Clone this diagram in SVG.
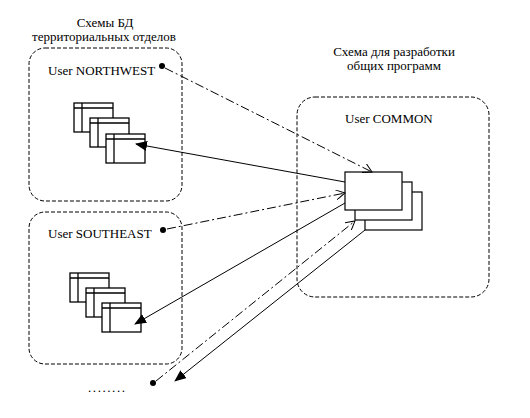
<svg xmlns="http://www.w3.org/2000/svg" width="530" height="418" viewBox="0 0 530 418">
<style>
text{font-family:"Liberation Serif","Times New Roman",serif;font-size:13px;fill:#000}
.grp{fill:none;stroke:#000;stroke-width:1;stroke-dasharray:4 2}
.tbl{fill:#fff;stroke:#000;stroke-width:1.3}
.box{fill:#fff;stroke:#000;stroke-width:1.2}
.solid{fill:none;stroke:#000;stroke-width:1;marker-end:url(#af)}
.dd{fill:none;stroke:#000;stroke-width:1;stroke-dasharray:9 3 2 3;marker-end:url(#ao)}
</style>
<defs>
<marker id="af" viewBox="0 0 12 10" refX="11" refY="5" markerWidth="12" markerHeight="10" markerUnits="userSpaceOnUse" orient="auto">
<path d="M0,0 L12,5 L0,10 Z" fill="#000"/>
</marker>
<marker id="ao" viewBox="0 0 10 10" refX="9" refY="5" markerWidth="10" markerHeight="10" markerUnits="userSpaceOnUse" orient="auto">
<path d="M0,0 L9,5 L0,10" fill="none" stroke="#000" stroke-width="1"/>
</marker>
<g id="table">
<rect class="tbl" x="0" y="0" width="39" height="29"/>
<line x1="0" y1="5" x2="39" y2="5" stroke="#000" stroke-width="1.3"/>
<line x1="8" y1="0" x2="8" y2="29" stroke="#000" stroke-width="1.3"/>
</g>
</defs>

<g id="title-left">
<text x="105" y="27" text-anchor="middle">Схемы БД</text>
<text x="104" y="41" text-anchor="middle">территориальных отделов</text>
</g>

<g id="title-right">
<text x="394" y="56" text-anchor="middle">Схема для разработки</text>
<text x="394" y="70" text-anchor="middle">общих программ</text>
</g>

<g id="northwest">
<rect class="grp" x="29" y="48" width="153" height="153" rx="16"/>
<text x="48" y="75">User NORTHWEST</text>
<use href="#table" x="74" y="103"/>
<use href="#table" x="90" y="118"/>
<use href="#table" x="106" y="134"/>
<circle cx="162" cy="66" r="3"/>
</g>

<g id="southeast">
<rect class="grp" x="29" y="212" width="153" height="152" rx="16"/>
<text x="48" y="238">User SOUTHEAST</text>
<use href="#table" x="70" y="273"/>
<use href="#table" x="86" y="288"/>
<use href="#table" x="102" y="303"/>
<circle cx="163" cy="230" r="3"/>
</g>

<g id="common">
<rect class="grp" x="297" y="97" width="192" height="200" rx="18"/>
<text x="345" y="123">User COMMON</text>
<rect class="box" x="365" y="192" width="57" height="38"/>
<rect class="box" x="355" y="182" width="57" height="38"/>
<rect class="box" x="345" y="172" width="57" height="38"/>
</g>

<g id="more">
<text x="88" y="392" textLength="37" lengthAdjust="spacing">........</text>
<circle cx="153" cy="383" r="3"/>
</g>

<g id="connectors">
<path class="dd" d="M165,68 L372,172"/>
<path class="dd" d="M167,229 L345,193"/>
<path class="dd" d="M156,381 L355,221"/>
<path class="solid" d="M345,182 L136,144"/>
<path class="solid" d="M345,203 L135,324"/>
<path class="solid" d="M365,230 L175,381"/>
</g>
</svg>
